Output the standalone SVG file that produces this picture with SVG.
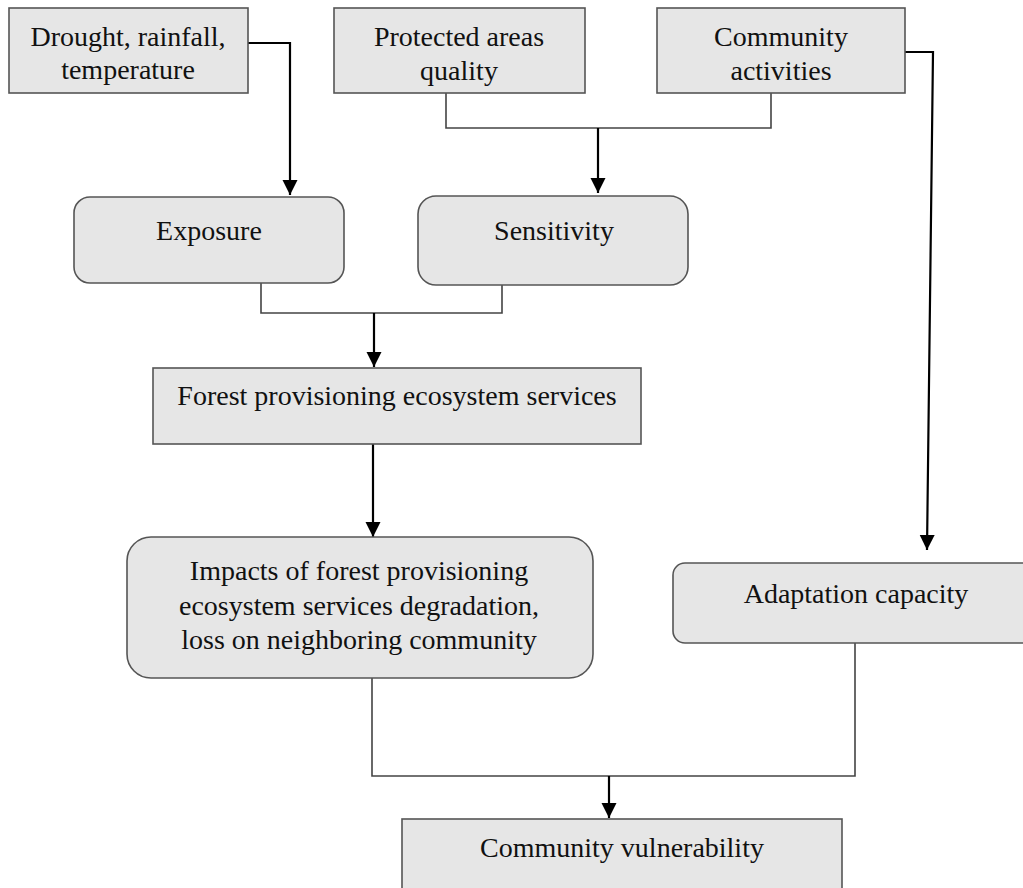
<svg xmlns="http://www.w3.org/2000/svg" width="1023" height="888" viewBox="0 0 1023 888">
<style>
.box{fill:#e6e6e6;stroke:#555;stroke-width:1.6}
.t{font-family:"Liberation Serif","Times New Roman",serif;font-size:28px;fill:#111;text-anchor:middle}
.thin{fill:none;stroke:#444;stroke-width:1.6}
.arr{fill:none;stroke:#000;stroke-width:2.2}
</style>
<defs>
<marker id="ah" markerUnits="userSpaceOnUse" markerWidth="16" markerHeight="16" refX="15" refY="8" orient="auto">
<path d="M0,0.5 L15,8 L0,15.5 Z" fill="#000"/>
</marker>
</defs>
<rect width="1023" height="888" fill="#fff"/>
<g id="connectors">
<polyline class="arr" points="248,43 290,43 290,195" marker-end="url(#ah)"/>
<polyline class="thin" points="446,93 446,128 771,128 771,93"/>
<line class="arr" x1="598" y1="128" x2="598" y2="193" marker-end="url(#ah)"/>
<polyline class="arr" points="905,52 933,52 927,550" marker-end="url(#ah)"/>
<polyline class="thin" points="261,283 261,313 502,313 502,285"/>
<line class="arr" x1="374" y1="313" x2="374" y2="367" marker-end="url(#ah)"/>
<line class="arr" x1="373" y1="444" x2="373" y2="537" marker-end="url(#ah)"/>
<polyline class="thin" points="372,678 372,776 855,776 855,643"/>
<line class="arr" x1="609" y1="776" x2="609" y2="818" marker-end="url(#ah)"/>
</g>
<g id="n-drought">
<rect class="box" x="9" y="8" width="239" height="85"/>
<text class="t" x="128" y="46">Drought, rainfall,</text>
<text class="t" x="128" y="79">temperature</text>
</g>
<g id="n-protected">
<rect class="box" x="334" y="8" width="251" height="85"/>
<text class="t" x="459" y="46">Protected areas</text>
<text class="t" x="459" y="80">quality</text>
</g>
<g id="n-community">
<rect class="box" x="657" y="8" width="248" height="85"/>
<text class="t" x="781" y="46">Community</text>
<text class="t" x="781" y="80">activities</text>
</g>
<g id="n-exposure">
<rect class="box" x="74" y="197" width="270" height="86" rx="16"/>
<text class="t" x="209" y="240">Exposure</text>
</g>
<g id="n-sensitivity">
<rect class="box" x="418" y="196" width="270" height="89" rx="18"/>
<text class="t" x="554" y="240">Sensitivity</text>
</g>
<g id="n-forest">
<rect class="box" x="153" y="368" width="488" height="76"/>
<text class="t" x="397" y="405">Forest provisioning ecosystem services</text>
</g>
<g id="n-impacts">
<rect class="box" x="127" y="537" width="466" height="141" rx="24"/>
<text class="t" x="359" y="580">Impacts of forest provisioning</text>
<text class="t" x="359" y="615">ecosystem services degradation,</text>
<text class="t" x="359" y="649">loss on neighboring community</text>
</g>
<g id="n-adaptation">
<rect class="box" x="673" y="563" width="368" height="80" rx="12"/>
<text class="t" x="856" y="603">Adaptation capacity</text>
</g>
<g id="n-vulnerability">
<rect class="box" x="402" y="819" width="440" height="80"/>
<text class="t" x="622" y="857">Community vulnerability</text>
</g>
</svg>
